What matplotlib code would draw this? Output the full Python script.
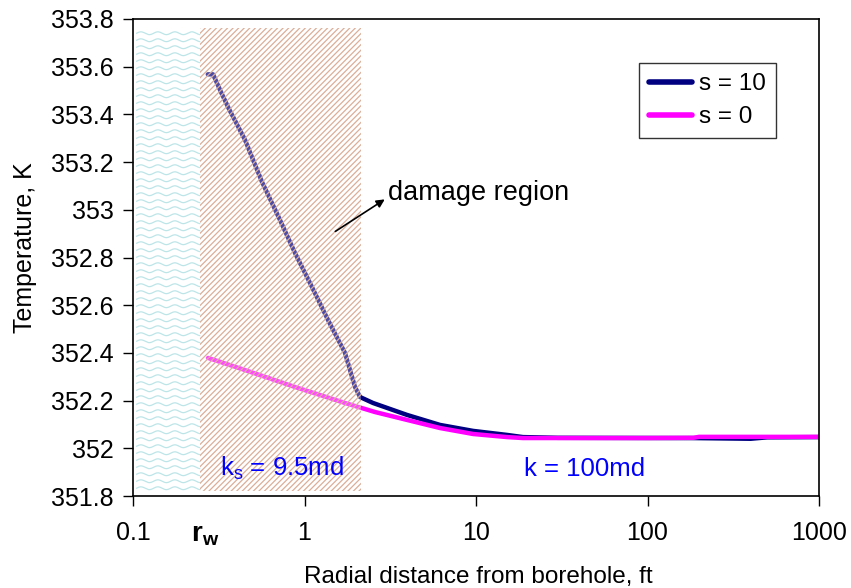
import numpy as np
import matplotlib
matplotlib.use("Agg")
import matplotlib.pyplot as plt
from matplotlib.patches import Rectangle

plt.rcParams['font.family'] = ['Liberation Sans', 'DejaVu Sans']
plt.rcParams['mathtext.fontset'] = 'custom'
plt.rcParams['mathtext.rm'] = 'Liberation Sans'
plt.rcParams['mathtext.it'] = 'Liberation Sans'
plt.rcParams['mathtext.bf'] = 'Liberation Sans:bold'
plt.rcParams['hatch.linewidth'] = 0.9

# data
s10_x = [0.273, 0.293, 0.322, 0.358, 0.450, 0.565, 0.720, 0.880, 1.106, 1.371,
         1.722, 1.970, 2.107, 2.51, 3.96, 6.17, 9.62, 15.2, 18.8, 30, 180, 400, 500, 1000]
s10_T = [353.568, 353.568, 353.502, 353.431, 353.293, 353.117, 352.957, 352.819, 352.676, 352.538,
         352.400, 352.257, 352.215, 352.190, 352.140, 352.098, 352.073, 352.056, 352.047, 352.044,
         352.043, 352.040, 352.046, 352.047]

s0_x = [0.274, 0.450, 0.880, 1.722, 2.58, 3.96, 6.17, 9.62, 15.2, 18.8, 100, 185, 200, 1000]
s0_T = [352.379, 352.328, 352.257, 352.190, 352.152, 352.119, 352.085, 352.060, 352.047, 352.043,
        352.043, 352.044, 352.048, 352.048]

x_ticks = [0.1, 1, 10, 100, 1000]
x_labels = ['0.1', '1', '10', '100', '1000']
y_ticks = [351.8, 352.0, 352.2, 352.4, 352.6, 352.8, 353.0, 353.2, 353.4, 353.6, 353.8]

well_zone = (0.105, 0.245)     # borehole region (wavy)
damage_zone = (0.245, 2.13)    # damaged region (hatched)
zone_T = (351.82, 353.762)

fig = plt.figure(figsize=(8.51, 5.88), dpi=100)
ax = fig.add_axes([133/851, 1-496/588, 686/851, 477/588])

ax.plot(s10_x, s10_T, color='#000080', lw=3.2, label='s = 10', zorder=2, solid_capstyle='round')
ax.plot(s0_x, s0_T, color='#ff00ff', lw=3.2, label='s = 0', zorder=2.1, solid_capstyle='round')

ax.set_xscale('log')
ax.set_xlim(0.1, 1000)
ax.set_ylim(351.8, 353.8)
ax.set_xticks(x_ticks)
ax.set_xticklabels(x_labels)
ax.minorticks_off()
ax.set_yticks(y_ticks)
ax.set_yticklabels([f"{v:g}" for v in np.round(y_ticks, 1)])
ax.tick_params(direction='out', length=7, width=1, labelsize=18, pad=7)
ax.tick_params(axis='x', pad=11)
for sp in ax.spines.values():
    sp.set_linewidth(1.2)

# hatched damage region, drawn over the lines
ax.add_patch(Rectangle((damage_zone[0], zone_T[0]), damage_zone[1]-damage_zone[0], zone_T[1]-zone_T[0],
                       facecolor=(1, 1, 1, 0.3), edgecolor='#dcae98', hatch='//////', lw=0, zorder=3))

# wavy texture for the borehole region
W, H = 686.0, 477.0
def xfrac(v):
    return np.log10(v / 0.1) / 4.0
px0, px1 = xfrac(well_zone[0]) * W, xfrac(well_zone[1]) * W
py0 = (zone_T[0] - 351.8) / 2.0 * H
py1 = (zone_T[1] - 351.8) / 2.0 * H
xs = np.linspace(px0, px1, 200)
for row in np.arange(py0 + 3, py1, 7.0):
    ys = row + 1.4 * np.sin(2 * np.pi * (xs - px0) / 17.0)
    ax.plot(xs / W, ys / H, transform=ax.transAxes, color='#bde5e8', lw=0.9, zorder=1)

ax.text(0.74, 351.915, '$\\mathregular{k_s}$ = 9.5md', color='#0000ff', fontsize=18.5,
        ha='center', va='center', zorder=4)
ax.text(42.7, 351.913, 'k = 100md', color='#0000ff', fontsize=18.5, ha='center', va='center')
ax.annotate('', xy=(3.03, 353.05), xytext=(1.466, 352.903),
            arrowprops=dict(arrowstyle='-|>', color='black', lw=1.2, mutation_scale=12), zorder=4)
ax.text(3.06, 353.07, 'damage region', fontsize=19.5, ha='left', va='center')

ax.text(0.265, -0.082, '$\\mathbf{r_w}$', transform=ax.get_xaxis_transform(),
        fontsize=20, ha='center', va='center')

fig.text(478/851, 1-577/588, 'Radial distance from borehole, ft', fontsize=17.5, ha='center', va='center')
fig.text(25/851, 1-248/588, 'Temperature, K', fontsize=18, rotation=90, ha='center', va='center')

leg = ax.legend(loc='upper left', bbox_to_anchor=(639/851, 1-63/588), bbox_transform=fig.transFigure,
                fontsize=17.5, frameon=True, fancybox=False, edgecolor='black', borderaxespad=0,
                handlelength=1.75, handletextpad=0.3, labelspacing=0.45, borderpad=0.42)
leg.get_frame().set_linewidth(1.0)
for h in leg.get_lines():
    h.set_linewidth(4)

fig.savefig('out.png', dpi=100)
